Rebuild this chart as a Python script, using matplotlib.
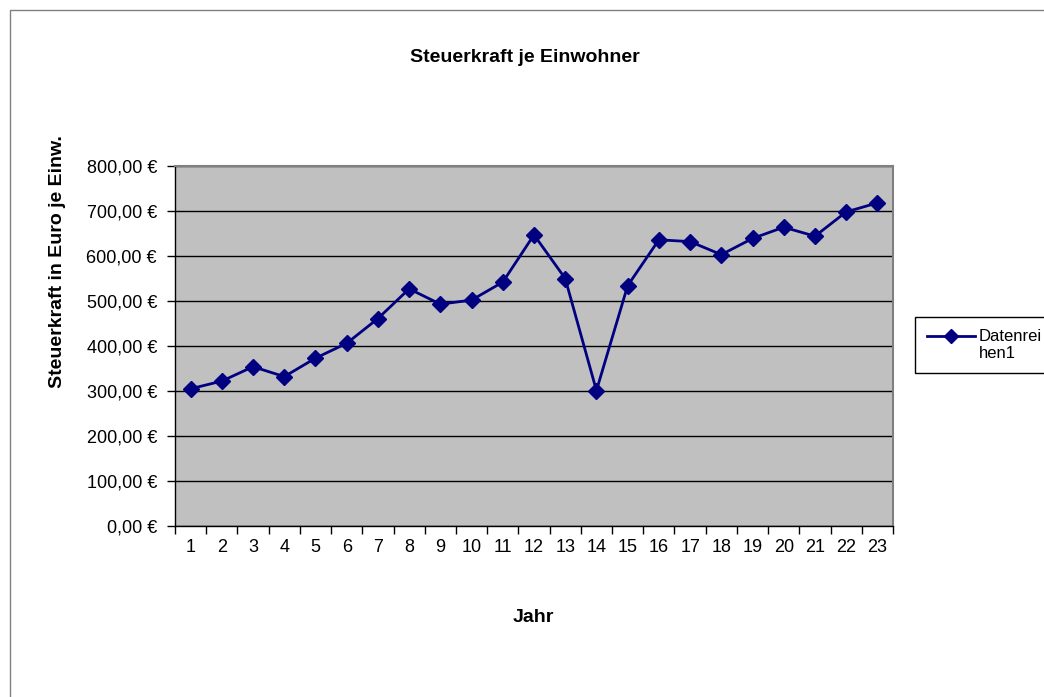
import matplotlib
matplotlib.use("Agg")
import matplotlib.pyplot as plt
from matplotlib.patches import Rectangle
from matplotlib.lines import Line2D
from matplotlib.ticker import FixedLocator, FuncFormatter

plt.rcParams['font.family'] = ['Liberation Sans', 'DejaVu Sans']

years = list(range(1, 24))
values = [305, 322, 354, 332, 373, 406, 461, 527, 493, 502, 542, 647,
          550, 301, 534, 636, 632, 603, 639, 664, 644, 698, 718]
title = "Steuerkraft je Einwohner"
xlabel = "Jahr"
ylabel = "Steuerkraft in Euro je Einw."
series_label = "Datenrei\nhen1"
yticks = [0, 100, 200, 300, 400, 500, 600, 700, 800]

W, H = 1044, 697
fig = plt.figure(figsize=(W / 100, H / 100), dpi=100)

# outer chart frame
fig.patches.append(Rectangle((10 / W, -0.1), 1.2, 1 - 10 / H + 0.1, transform=fig.transFigure,
                             fill=False, edgecolor='#808080', linewidth=1.0))

ax = fig.add_axes([175 / W, 1 - 526 / H, (893 - 175) / W, (526 - 166) / H])
ax.set_facecolor('#C0C0C0')
ax.plot(years, values, color='#000080', linewidth=2, marker='D', markersize=8,
        markerfacecolor='#000080', markeredgecolor='#000080', zorder=3)

ax.set_xlim(0.5, 23.5)
ax.set_ylim(0, 800)
ax.set_yticks(yticks)
ax.yaxis.set_major_formatter(FuncFormatter(lambda v, p: f"{v:,.2f} €".replace(",", "X").replace(".", ",").replace("X", ".")))
ax.grid(axis='y', color='black', linewidth=1)
ax.set_axisbelow(True)

ax.set_xticks(years)
ax.set_xticklabels([str(y) for y in years])
ax.xaxis.set_minor_locator(FixedLocator([y + 0.5 for y in range(0, 24)]))
ax.tick_params(axis='x', which='major', length=0, pad=9, labelsize=13)
ax.tick_params(axis='x', which='minor', length=6, width=1, direction='out')
ax.tick_params(axis='y', which='major', length=6, width=1, direction='out', pad=7, labelsize=13)

for s in ['top', 'right']:
    ax.spines[s].set_color('#808080')
    ax.spines[s].set_linewidth(1.5)
for s in ['left', 'bottom']:
    ax.spines[s].set_color('black')
    ax.spines[s].set_linewidth(1)

fig.text(525 / W, 1 - 57 / H, title, ha='center', va='center', fontsize=14, fontweight='bold')
fig.text(533 / W, 1 - 617 / H, xlabel, ha='center', va='center', fontsize=14, fontweight='bold')
fig.text(57 / W, 1 - 262 / H, ylabel, ha='center', va='center', fontsize=14, fontweight='bold',
         rotation=90)

# legend
fig.patches.append(Rectangle((915 / W, 1 - 373 / H), 200 / W, 56 / H, transform=fig.transFigure,
                             fill=True, facecolor='white', edgecolor='black', linewidth=1))
fig.lines.append(Line2D([927 / W, 975 / W], [1 - 336 / H, 1 - 336 / H], transform=fig.transFigure,
                        color='#000080', linewidth=2))
fig.lines.append(Line2D([951 / W], [1 - 336 / H], transform=fig.transFigure, color='#000080',
                        marker='D', markersize=7, linestyle='none'))
fig.text(979 / W, 1 - 345 / H, series_label, ha='left', va='center', fontsize=12, linespacing=1.15)

fig.savefig("out.png", dpi=100)
